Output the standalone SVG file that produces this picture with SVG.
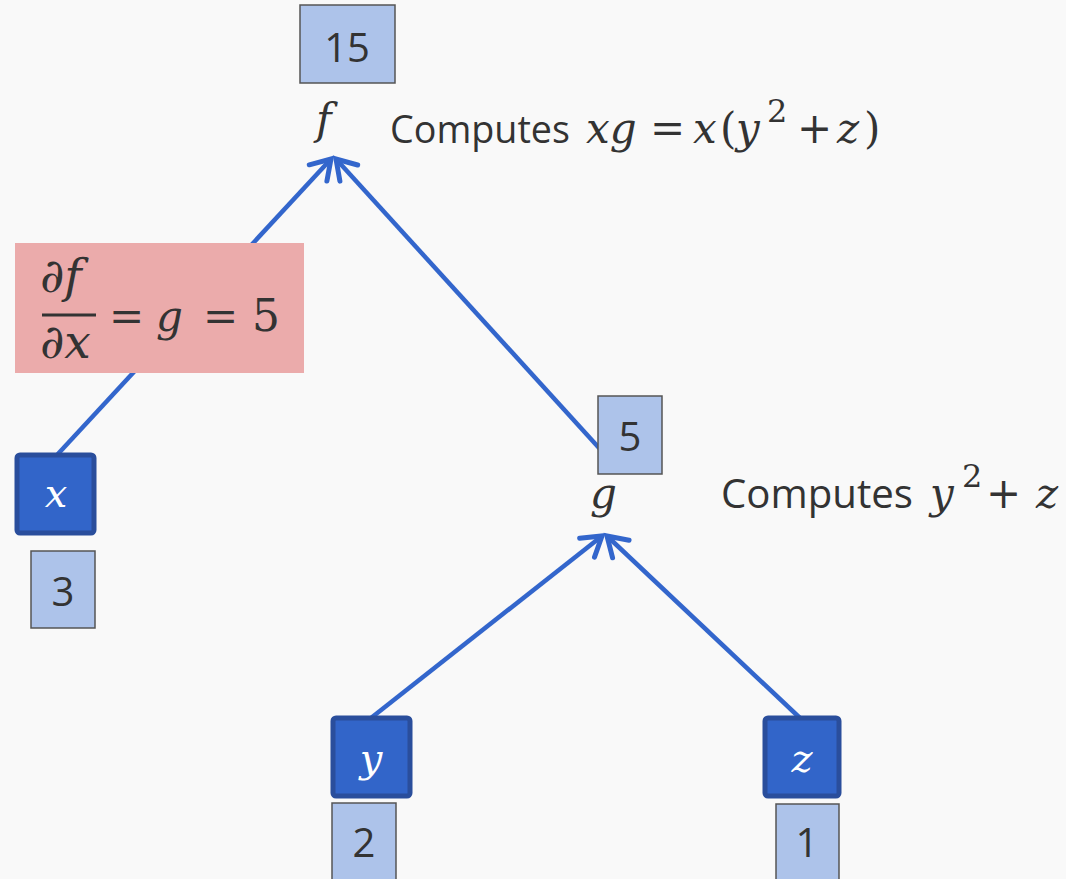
<svg xmlns="http://www.w3.org/2000/svg" width="1066" height="879" viewBox="0 0 1066 879">
<style>
.val{fill:#adc3ea;stroke:#555;stroke-width:1.5}
.node{fill:#3265c9;stroke:#2a4e9c;stroke-width:5}
.num{font-family:"Open Sans","Liberation Sans",sans-serif;font-size:40px;fill:#333;text-anchor:middle}
.txt{font-family:"Open Sans","Liberation Sans",sans-serif;font-size:41px;fill:#333}
.m{font-family:"DejaVu Serif","Liberation Serif",serif;font-style:italic;font-size:42px;fill:#333}
.r{font-style:normal}
.sup{font-style:normal;font-size:32px}
.nl{font-family:"DejaVu Serif","Liberation Serif",serif;font-style:italic;font-size:40px;fill:#fff;text-anchor:middle}
.edge{stroke:#3366cc;stroke-width:4.5;fill:none}
</style>
<defs>
<marker id="ah" markerUnits="userSpaceOnUse" viewBox="-30 -20 40 40" refX="0" refY="0" markerWidth="40" markerHeight="40" orient="auto" overflow="visible">
<path d="M-19,-12 L0,0 L-19,12" fill="none" stroke="#3366cc" stroke-width="5" stroke-linejoin="miter" stroke-linecap="round"/>
</marker>
</defs>
<rect width="1066" height="879" fill="#f9f9f9"/>
<g id="connectors">
<line class="edge" x1="57" y1="455" x2="331" y2="159" marker-end="url(#ah)"/>
<line class="edge" x1="610" y1="460" x2="336" y2="159" marker-end="url(#ah)"/>
<line class="edge" x1="371" y1="718" x2="602" y2="536" marker-end="url(#ah)"/>
<line class="edge" x1="800" y1="718" x2="607" y2="536" marker-end="url(#ah)"/>
</g>
<g id="node-f">
<rect class="val" x="300" y="5" width="95" height="78"/>
<text class="num" x="347" y="62">15</text>
<text class="m" x="316" y="134">f</text>
<text class="txt" x="390" y="143" style="font-size:39px" textLength="180" lengthAdjust="spacingAndGlyphs">Computes</text>
<text class="m" y="143"><tspan x="586">xg</tspan><tspan class="r" x="650">=</tspan><tspan x="693">x</tspan><tspan class="r" x="720">(</tspan><tspan x="736">y</tspan><tspan class="sup" x="767" y="122">2</tspan><tspan class="r" x="797" y="143">+</tspan><tspan x="837">z</tspan><tspan class="r" x="864">)</tspan></text>
</g>
<g id="grad-label">
<rect x="15" y="243" width="289" height="130" fill="#ebabab"/>
<text class="m" x="40" y="292" style="font-size:47px">∂f</text>
<line x1="42" y1="315" x2="96" y2="315" stroke="#333" stroke-width="3"/>
<text class="m" x="40" y="358" style="font-size:47px">∂x</text>
<text class="m" y="331"><tspan class="r" x="109">=</tspan><tspan x="156">g</tspan><tspan class="r" x="203">=</tspan><tspan class="r" x="252" font-size="44">5</tspan></text>
</g>
<g id="node-x">
<rect class="node" x="17" y="455" width="77" height="78" rx="3"/>
<text class="nl" x="56" y="507">x</text>
<rect class="val" x="31" y="551" width="64" height="77"/>
<text class="num" x="63" y="606">3</text>
</g>
<g id="node-g">
<rect class="val" x="598" y="396" width="64" height="78"/>
<text class="num" x="630" y="451">5</text>
<text class="m" x="590" y="508">g</text>
<text class="txt" x="721" y="508" textLength="192" lengthAdjust="spacingAndGlyphs">Computes</text>
<text class="m" y="508"><tspan x="930">y</tspan><tspan class="sup" x="962" y="487">2</tspan><tspan class="r" x="986" y="508">+</tspan><tspan x="1036">z</tspan></text>
</g>
<g id="node-y">
<rect class="node" x="333" y="718" width="77" height="78" rx="3"/>
<text class="nl" x="371" y="772">y</text>
<rect class="val" x="332" y="803" width="64" height="80"/>
<text class="num" x="364" y="857">2</text>
</g>
<g id="node-z">
<rect class="node" x="765" y="718" width="74" height="78" rx="3"/>
<text class="nl" x="802" y="772">z</text>
<rect class="val" x="776" y="804" width="63" height="80"/>
<text class="num" x="807" y="857">1</text>
</g>
</svg>
